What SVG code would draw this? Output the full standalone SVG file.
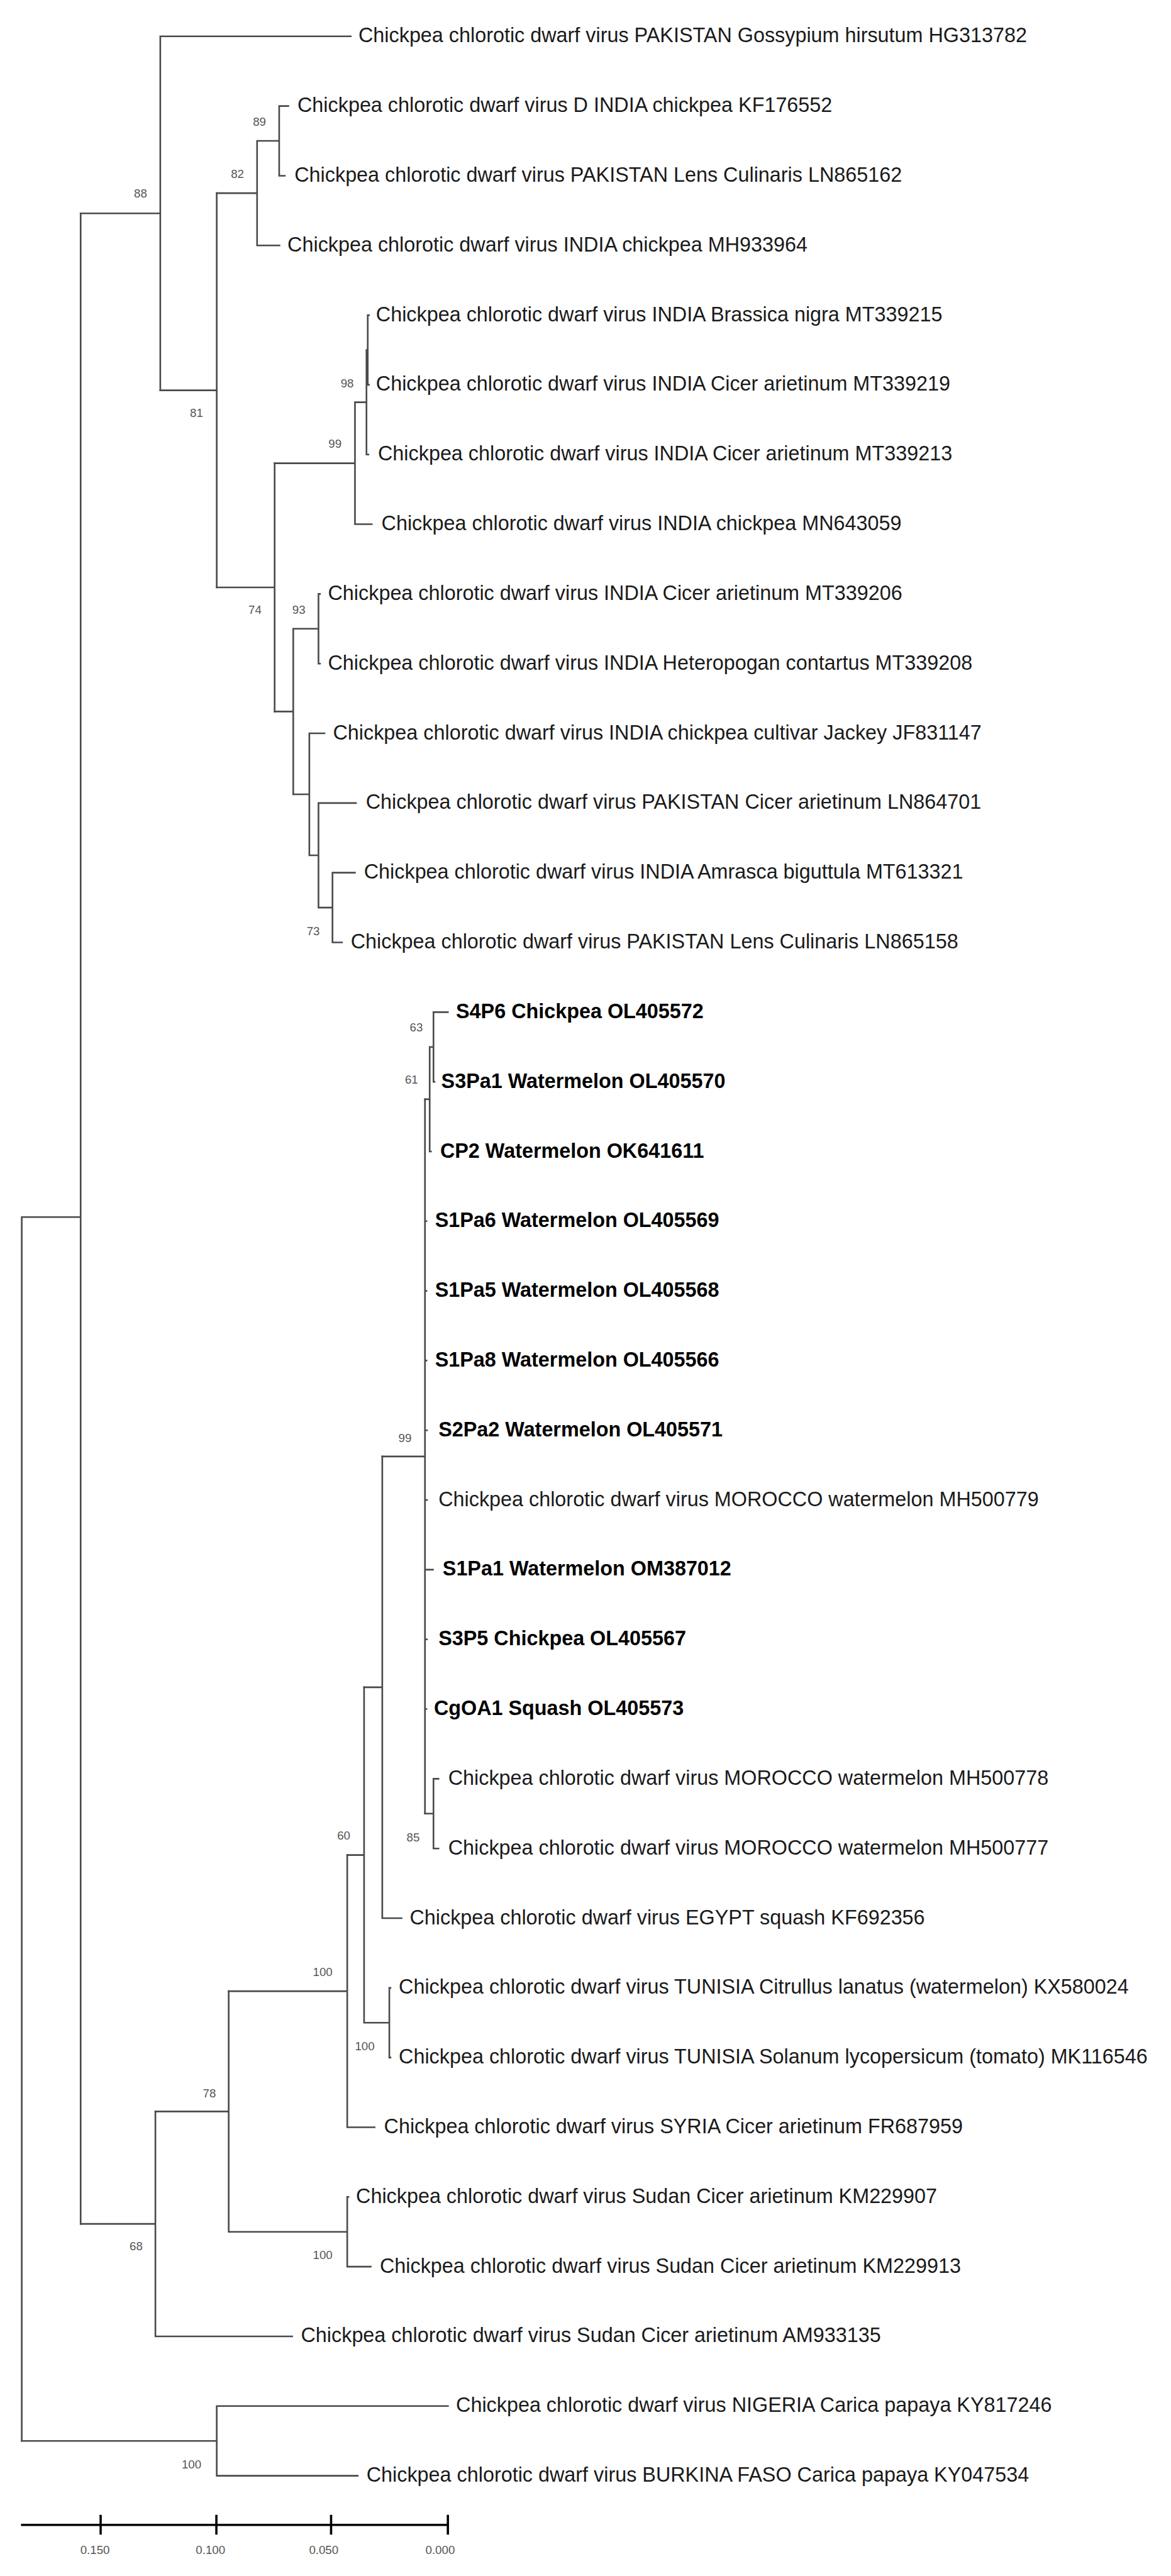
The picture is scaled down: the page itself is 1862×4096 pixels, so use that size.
<svg xmlns="http://www.w3.org/2000/svg" width="1862" height="4096" viewBox="0 0 1862 4096">
<style>
.br{fill:none;stroke:#4a4a4a;stroke-width:3.3;stroke-linecap:square}
.tip{font-family:"Liberation Sans",Arial,sans-serif;font-size:40.7px;fill:#1a1a1a}
.b{font-weight:bold;fill:#000}
.bs{font-family:"Liberation Sans",Arial,sans-serif;font-size:23.5px;fill:#555;text-anchor:middle}
.sb{fill:none;stroke:#000;stroke-width:4.5}
</style>
<rect width="1862" height="4096" fill="#fff"/>
<g transform="scale(0.795)">
<g id="branches" class="br">
<path d="M43.5 2434.3V4882 M43.5 2434.3H161.3 M161.3 426.7V4448"/>
<path d="M161.3 426.7H320.6 M320.6 72.7V780.6 M320.6 72.7H701.5"/>
<path d="M320.6 780.6H433.5 M433.5 386.35V1174.9"/>
<path d="M433.5 386.35H514.2 M514.2 281.8V490.9 M514.2 281.8H558.4 M558.4 212.1V351.5 M558.4 212.1H576.6 M558.4 351.5H569.6 M514.2 490.9H559"/>
<path d="M433.5 1174.9H549.3 M549.3 926.6V1423.1"/>
<path d="M549.3 926.6H710 M710 804.6V1048.5 M710 1048.5H743.6 M710 804.6H733 M733 700V909.1 M733 909.1H737 M733 700H735.5 M735.5 630.3V769.7 M735.5 630.3H738 M735.5 769.7H738"/>
<path d="M549.3 1423.1H586.5 M586.5 1257.6V1588.7 M586.5 1257.6H637 M637 1187.9V1327.3 M637 1187.9H640 M637 1327.3H640"/>
<path d="M586.5 1588.7H618.7 M618.7 1466.7V1710.65 M618.7 1466.7H649 M618.7 1710.65H637 M637 1606.1V1815.2 M637 1606.1H712 M637 1815.2H665 M665 1745.5V1884.9 M665 1745.5H710 M665 1884.9H684"/>
<path d="M161.3 4448H310.8 M310.8 4223.1V4672.9 M310.8 4672.9H584.4"/>
<path d="M310.8 4223.1H457.4 M457.4 3982.5V4463.8 M457.4 4463.8H694.5 M694.5 4394.1V4533.5 M694.5 4394.1H697 M694.5 4533.5H741.5"/>
<path d="M457.4 3982.5H694.5 M694.5 3710.2V4254.7 M694.5 4254.7H749.2"/>
<path d="M694.5 3710.2H728.2 M728.2 3374.75V4045.6 M728.2 4045.6H778.7 M778.7 3975.9V4115.3 M778.7 3975.9H781 M778.7 4115.3H781"/>
<path d="M728.2 3374.75H764.6 M764.6 2913V3836.5 M764.6 3836.5H803.2"/>
<path d="M764.6 2913H850 M850 2198.6V3627.4 M850 2442.5H853 M850 2581.9H853 M850 2721.3H853 M850 2860.7H854 M850 3000.1H854 M850 3139.5H866 M850 3278.9H854 M850 3418.3H853"/>
<path d="M850 2198.6H859.4 M859.4 2094V2303.1 M859.4 2303.1H862 M859.4 2094H867 M867 2024.3V2163.7 M867 2024.3H895.8 M867 2163.7H869"/>
<path d="M850 3627.4H867 M867 3557.7V3697.1 M867 3557.7H877 M867 3697.1H877"/>
<path d="M43.5 4882H433.5 M433.5 4812.3V4951.7 M433.5 4812.3H896 M433.5 4951.7H715.5"/>
</g>
<g id="tips" class="tip">
<g id="tip01"><text x="717" y="84.7">Chickpea chlorotic dwarf virus PAKISTAN Gossypium hirsutum HG313782</text></g>
<g id="tip02"><text x="595" y="224.1">Chickpea chlorotic dwarf virus D INDIA chickpea KF176552</text></g>
<g id="tip03"><text x="589" y="363.5">Chickpea chlorotic dwarf virus PAKISTAN Lens Culinaris LN865162</text></g>
<g id="tip04"><text x="575" y="502.9">Chickpea chlorotic dwarf virus INDIA chickpea MH933964</text></g>
<g id="tip05"><text x="752" y="642.3">Chickpea chlorotic dwarf virus INDIA Brassica nigra MT339215</text></g>
<g id="tip06"><text x="752" y="781.7">Chickpea chlorotic dwarf virus INDIA Cicer arietinum MT339219</text></g>
<g id="tip07"><text x="756" y="921.1">Chickpea chlorotic dwarf virus INDIA Cicer arietinum MT339213</text></g>
<g id="tip08"><text x="763" y="1060.5">Chickpea chlorotic dwarf virus INDIA chickpea MN643059</text></g>
<g id="tip09"><text x="656" y="1199.9">Chickpea chlorotic dwarf virus INDIA Cicer arietinum MT339206</text></g>
<g id="tip10"><text x="656" y="1339.3">Chickpea chlorotic dwarf virus INDIA Heteropogan contartus MT339208</text></g>
<g id="tip11"><text x="666" y="1478.7">Chickpea chlorotic dwarf virus INDIA chickpea cultivar Jackey JF831147</text></g>
<g id="tip12"><text x="731.7" y="1618.1">Chickpea chlorotic dwarf virus PAKISTAN Cicer arietinum LN864701</text></g>
<g id="tip13"><text x="728" y="1757.5">Chickpea chlorotic dwarf virus INDIA Amrasca biguttula MT613321</text></g>
<g id="tip14"><text x="701.5" y="1896.9">Chickpea chlorotic dwarf virus PAKISTAN Lens Culinaris LN865158</text></g>
<g id="tip15"><text class="b" x="912" y="2036.3">S4P6 Chickpea OL405572</text></g>
<g id="tip16"><text class="b" x="882.5" y="2175.7">S3Pa1 Watermelon OL405570</text></g>
<g id="tip17"><text class="b" x="880.4" y="2315.1">CP2 Watermelon OK641611</text></g>
<g id="tip18"><text class="b" x="870" y="2454.5">S1Pa6 Watermelon OL405569</text></g>
<g id="tip19"><text class="b" x="870" y="2593.9">S1Pa5 Watermelon OL405568</text></g>
<g id="tip20"><text class="b" x="870" y="2733.3">S1Pa8 Watermelon OL405566</text></g>
<g id="tip21"><text class="b" x="877" y="2872.7">S2Pa2 Watermelon OL405571</text></g>
<g id="tip22"><text x="877" y="3012.1">Chickpea chlorotic dwarf virus MOROCCO watermelon MH500779</text></g>
<g id="tip23"><text class="b" x="885.3" y="3151.5">S1Pa1 Watermelon OM387012</text></g>
<g id="tip24"><text class="b" x="877" y="3290.9">S3P5 Chickpea OL405567</text></g>
<g id="tip25"><text class="b" x="867.8" y="3430.3">CgOA1 Squash OL405573</text></g>
<g id="tip26"><text x="896.5" y="3569.7">Chickpea chlorotic dwarf virus MOROCCO watermelon MH500778</text></g>
<g id="tip27"><text x="896.5" y="3709.1">Chickpea chlorotic dwarf virus MOROCCO watermelon MH500777</text></g>
<g id="tip28"><text x="819.4" y="3848.5">Chickpea chlorotic dwarf virus EGYPT squash KF692356</text></g>
<g id="tip29"><text x="797.6" y="3987.9">Chickpea chlorotic dwarf virus TUNISIA Citrullus lanatus (watermelon) KX580024</text></g>
<g id="tip30"><text x="797.6" y="4127.3">Chickpea chlorotic dwarf virus TUNISIA Solanum lycopersicum (tomato) MK116546</text></g>
<g id="tip31"><text x="768" y="4266.7">Chickpea chlorotic dwarf virus SYRIA Cicer arietinum FR687959</text></g>
<g id="tip32"><text x="712" y="4406.1">Chickpea chlorotic dwarf virus Sudan Cicer arietinum KM229907</text></g>
<g id="tip33"><text x="759.7" y="4545.5">Chickpea chlorotic dwarf virus Sudan Cicer arietinum KM229913</text></g>
<g id="tip34"><text x="601.9" y="4684.9">Chickpea chlorotic dwarf virus Sudan Cicer arietinum AM933135</text></g>
<g id="tip35"><text x="912" y="4824.3">Chickpea chlorotic dwarf virus NIGERIA Carica papaya KY817246</text></g>
<g id="tip36"><text x="733" y="4963.7">Chickpea chlorotic dwarf virus BURKINA FASO Carica papaya KY047534</text></g>
</g>
<g id="bootstrap" class="bs">
<text x="281" y="394.9">88</text>
<text x="519" y="251.4">89</text>
<text x="475" y="355.9">82</text>
<text x="393" y="833.4">81</text>
<text x="694.5" y="774.4">98</text>
<text x="670" y="895.4">99</text>
<text x="510" y="1227.8">74</text>
<text x="597.7" y="1227.8">93</text>
<text x="626.5" y="1870.8">73</text>
<text x="832.7" y="2062.9">63</text>
<text x="823" y="2167.4">61</text>
<text x="810" y="2884.7">99</text>
<text x="687.5" y="3679.6">60</text>
<text x="826.4" y="3683.4">85</text>
<text x="645.4" y="3952.2">100</text>
<text x="729.6" y="4100.3">100</text>
<text x="418.8" y="4194.4">78</text>
<text x="272.2" y="4500.4">68</text>
<text x="645.4" y="4518.6">100</text>
<text x="383" y="4936.7">100</text>
</g>
<g id="scalebar">
<path class="sb" d="M42 5050H896 M201.3 5030V5069.5 M432.8 5030V5069.5 M662.2 5030V5069.5 M895.8 5030V5069.5"/>
<g class="bs">
<text x="190" y="5107.6">0.150</text>
<text x="421" y="5107.6">0.100</text>
<text x="647.5" y="5107.6">0.050</text>
<text x="880.4" y="5107.6">0.000</text>
</g>
</g>
</g>
</svg>
